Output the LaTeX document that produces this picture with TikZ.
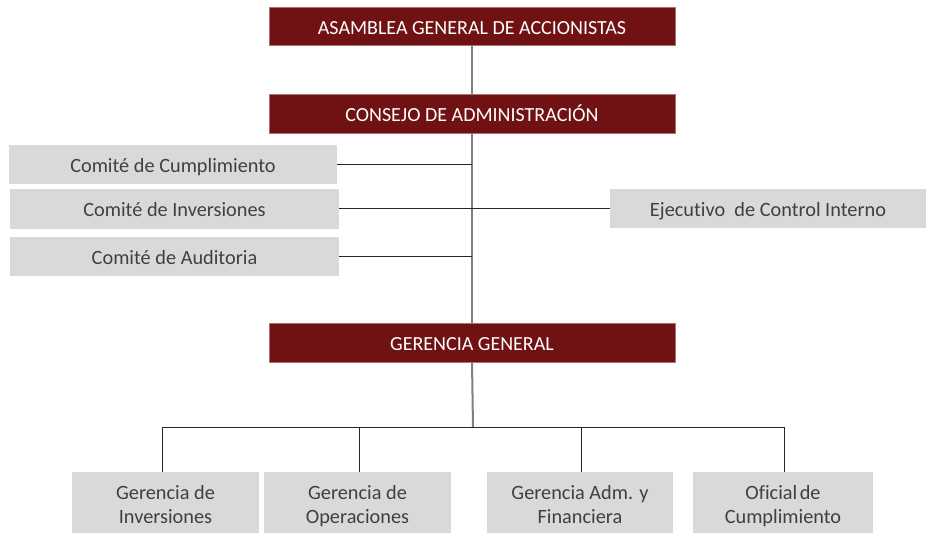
\documentclass[tikz,border=0pt]{standalone}
\usepackage{fontspec}
\setmainfont{Carlito}[Ligatures=NoCommon]
\definecolor{hdr}{HTML}{701214}
\definecolor{gbox}{HTML}{D9D9D9}
\definecolor{gtxt}{HTML}{404040}
\definecolor{vline}{HTML}{808080}
\newcommand\twoln[2]{\rule{0pt}{17.5pt}\smash{#1}\\\smash{#2}}
\begin{document}
\begin{tikzpicture}[x=1pt,y=-1pt,
  hbox/.style={fill=hdr,draw=hdr!60!white,line width=0.4pt,text=white,minimum width=406pt,minimum height=38pt,inner sep=0pt,text height=17pt,text depth=1pt,font=\fontsize{20}{22}\selectfont},
  gbx/.style={fill=gbox,draw=none,text=gtxt,inner sep=0pt,text height=18pt,text depth=2pt,font=\fontsize{20.3}{22}\selectfont},
  bbx/.style={fill=gbox,draw=none,text=gtxt,inner sep=0pt,minimum height=61pt,align=center,font=\fontsize{20.3}{24.5}\selectfont},
  mainline/.style={draw=vline,line width=2pt},
  thin/.style={draw=black!85,line width=0.9pt}]
\useasboundingbox (0,0) rectangle (926,533);
% header boxes
\node[hbox] (asm) at (472,26) {ASAMBLEA GENERAL DE ACCIONISTAS};
\node[hbox,minimum height=39pt] (cons) at (472,113.5) {CONSEJO DE ADMINISTRACIÓN};
\node[hbox,minimum height=39pt] (gg) at (472,342.5) {GERENCIA GENERAL};
% committees
\node[gbx,minimum width=328pt,minimum height=39pt] (c1) at (173,164.5) {Comité de Cumplimiento};
\node[gbx,minimum width=329pt,minimum height=40pt] (c2) at (174.5,208.5) {Comité de Inversiones};
\node[gbx,minimum width=329pt,minimum height=39pt] (c3) at (174.5,256.5) {Comité de Auditoria};
\node[gbx,minimum width=316pt,minimum height=39pt] (ej) at (768,208.5) {Ejecutivo\ \ de Control Interno};
% bottom boxes
\node[bbx,minimum width=187pt] (b1) at (165.5,502.5) {\twoln{Gerencia de}{Inversiones}};
\node[bbx,minimum width=187pt] (b2) at (357.5,502.5) {\twoln{Gerencia de}{Operaciones}};
\node[bbx,minimum width=186pt] (b3) at (580,502.5) {\twoln{Gerencia Adm. y}{Financiera}};
\node[bbx,minimum width=180pt] (b4) at (783,502.5) {\twoln{Oficial\hspace{2.5pt}de}{Cumplimiento}};
% bus coordinates
\coordinate (bus) at (473,427);
\coordinate (d1) at (162,427);
\coordinate (d2) at (359,427);
\coordinate (d3) at (581,427);
\coordinate (d4) at (784,427);
% main spine
\draw[mainline] (asm.south) -- (cons.north);
\draw[mainline] (cons.south) -- (gg.north);
\draw[mainline] (gg.south) -- (bus);
% side connectors
\draw[thin] (c1.east) -- (c1.east -| cons.south);
\draw[thin] (c2.east) -- (ej.west);
\draw[thin] (c3.east) -- (c3.east -| cons.south);
% bottom bus
\draw[thin] (d1) -- (d4);
\draw[thin] (d1) -- (d1 |- b1.north);
\draw[thin] (d2) -- (d2 |- b2.north);
\draw[thin] (d3) -- (d3 |- b3.north);
\draw[thin] (d4) -- (d4 |- b4.north);
\end{tikzpicture}
\end{document}
